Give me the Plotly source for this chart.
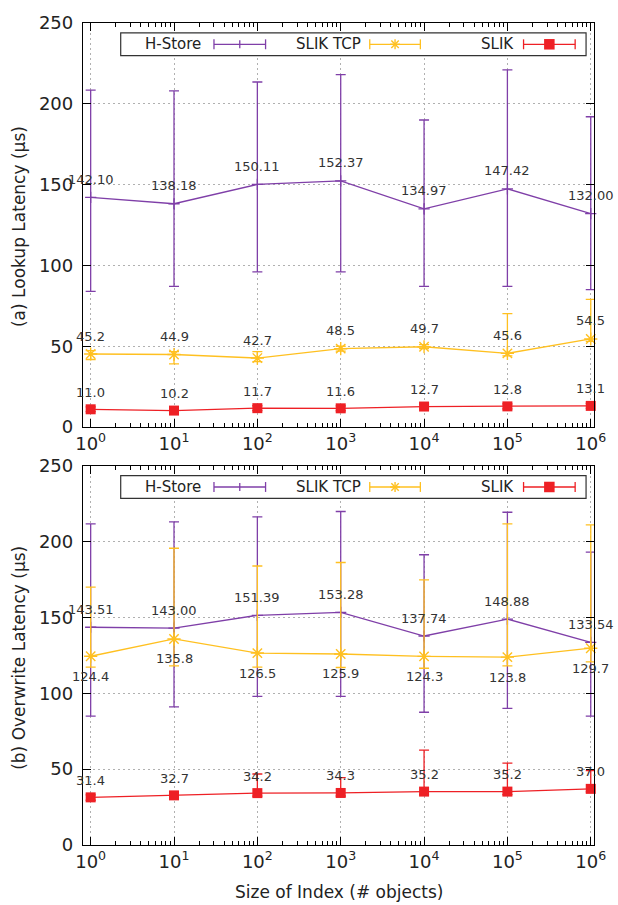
import math
import plotly.graph_objects as go

# ---------------- data ----------------
sizes = [1, 10, 100, 1000, 10000, 100000, 1000000]
x_tick_labels = ['10<sup>0</sup>', '10<sup>1</sup>', '10<sup>2</sup>', '10<sup>3</sup>',
                 '10<sup>4</sup>', '10<sup>5</sup>', '10<sup>6</sup>']
series_names = ['H-Store', 'SLIK TCP', 'SLIK']

# (a) Lookup latency (us): mean, upper and lower error bound
hstore_lookup = [142.10, 138.18, 150.11, 152.37, 134.97, 147.42, 132.00]
hstore_lookup_hi = [208.5, 208.0, 213.5, 218.0, 190.0, 221.0, 192.0]
hstore_lookup_lo = [84.0, 87.0, 96.0, 96.0, 87.0, 87.0, 85.0]
slik_tcp_lookup = [45.2, 44.9, 42.7, 48.5, 49.7, 45.6, 54.5]
slik_tcp_lookup_hi = [47.3, 46.7, 46.7, 50.0, 51.0, 70.2, 79.0]
slik_tcp_lookup_lo = [41.8, 39.1, 40.5, 47.0, 48.5, 44.0, 53.0]
slik_lookup = [11.0, 10.2, 11.7, 11.6, 12.7, 12.8, 13.1]
slik_lookup_hi = [12.5, 11.7, 13.2, 13.1, 14.2, 14.3, 14.6]
slik_lookup_lo = [9.5, 8.7, 10.2, 10.1, 11.2, 11.3, 11.6]

# (b) Overwrite latency (us)
hstore_write = [143.51, 143.00, 151.39, 153.28, 137.74, 148.88, 133.54]
hstore_write_hi = [211.7, 213.0, 216.3, 219.8, 191.3, 219.3, 193.0]
hstore_write_lo = [85.0, 91.0, 98.0, 98.0, 87.5, 90.0, 85.0]
slik_tcp_write = [124.4, 135.8, 126.5, 125.9, 124.3, 123.8, 129.7]
slik_tcp_write_hi = [169.9, 195.6, 183.9, 186.2, 174.7, 211.7, 211.0]
slik_tcp_write_lo = [117.3, 118.0, 117.3, 117.0, 116.5, 118.0, 120.7]
slik_write = [31.4, 32.7, 34.2, 34.3, 35.2, 35.2, 37.0]
slik_write_hi = [33.0, 34.5, 46.8, 44.4, 62.5, 54.0, 49.0]
slik_write_lo = [29.5, 30.8, 32.2, 32.3, 33.2, 33.2, 35.0]

# ---------------- styles ----------------
FONT = 'DejaVu Sans'
TXT = '#222222'
C_H = '#7F3FA8'
C_T = '#FFC020'
C_S = '#EE2025'
GRID = '#b0b0b0'

W, H = 618, 905
L, R, T, B = 83, 20, 15, 60
PW = W - L - R
PH = H - T - B


def px(xp):
    return (xp - L) / PW


def py(yp):
    return (H - B - yp) / PH


top_domain = [py(423), 1.0]
bot_domain = [0.0, py(462)]

fig = go.Figure()

panels = [
    dict(xa='x', ya='y', data=[
        (hstore_lookup, hstore_lookup_hi, hstore_lookup_lo, '{:.2f}', 18),
        (slik_tcp_lookup, slik_tcp_lookup_hi, slik_tcp_lookup_lo, '{:.1f}', 18),
        (slik_lookup, slik_lookup_hi, slik_lookup_lo, '{:.1f}', 17),
    ]),
    dict(xa='x2', ya='y2', data=[
        (hstore_write, hstore_write_hi, hstore_write_lo, '{:.2f}', 18),
        (slik_tcp_write, slik_tcp_write_hi, slik_tcp_write_lo, '{:.1f}', -20),
        (slik_write, slik_write_hi, slik_write_lo, '{:.1f}', 17),
    ]),
]

markers = [
    dict(symbol='cross-thin-open', size=8, color=C_H, line=dict(color=C_H, width=1.3)),
    dict(symbol='asterisk-open', size=11, color=C_T, line=dict(color=C_T, width=1.4)),
    dict(symbol='square', size=10, color=C_S, line=dict(color=C_S, width=0)),
]
colors = [C_H, C_T, C_S]

annotations = []
for p in panels:
    for i, (vals, hi, lo, fmt, shift) in enumerate(p['data']):
        fig.add_trace(go.Scatter(
            x=sizes, y=vals, mode='lines+markers', name=series_names[i],
            xaxis=p['xa'], yaxis=p['ya'],
            line=dict(color=colors[i], width=1.3),
            marker=markers[i],
            error_y=dict(type='data', symmetric=False,
                         array=[h - v for h, v in zip(hi, vals)],
                         arrayminus=[v - l for l, v in zip(lo, vals)],
                         color=colors[i], thickness=1.3, width=5),
            cliponaxis=False,
        ))
        for xv, v in zip(sizes, vals):
            annotations.append(dict(
                x=math.log10(xv), y=v, xref=p['xa'], yref=p['ya'],
                text=fmt.format(v), showarrow=False, yshift=shift,
                xanchor='center', yanchor='middle',
                font=dict(family=FONT, size=13, color='#333333')))

# axis titles
annotations.append(dict(x=0, y=py(221), xref='paper', yref='paper', xshift=-(L - 19),
                        text='(a) Lookup Latency (µs)', textangle=-90, showarrow=False,
                        xanchor='center', yanchor='middle',
                        font=dict(family=FONT, size=17, color=TXT)))
annotations.append(dict(x=0, y=py(656), xref='paper', yref='paper', xshift=-(L - 19),
                        text='(b) Overwrite Latency (µs)', textangle=-90, showarrow=False,
                        xanchor='center', yanchor='middle',
                        font=dict(family=FONT, size=17, color=TXT)))
annotations.append(dict(x=px(340.5), y=py(892), xref='paper', yref='paper',
                        text='Size of Index (# objects)', showarrow=False,
                        xanchor='center', yanchor='middle',
                        font=dict(family=FONT, size=17, color=TXT)))

# manual gnuplot-style legends
shapes = []
legend_items = [
    (series_names[0], 204, 215, 267, C_H, 'plus'),
    (series_names[1], 365, 372, 423, C_T, 'star'),
    (series_names[2], 519, 527, 579, C_S, 'square'),
]


def seg(x0, y0, x1, y1, color, w=1.3):
    shapes.append(dict(type='line', xref='paper', yref='paper',
                       x0=px(x0), y0=py(y0), x1=px(x1), y1=py(y1),
                       line=dict(color=color, width=w)))


for (btop, bbot) in [(25, 48), (472, 495)]:
    cy = (btop + bbot) / 2
    shapes.append(dict(type='rect', xref='paper', yref='paper',
                       x0=px(121), x1=px(590), y0=py(btop), y1=py(bbot),
                       line=dict(color='#333333', width=1.2), fillcolor='white', layer='above'))
    for name, tx, x0, x1, col, kind in legend_items:
        annotations.append(dict(x=px(tx), y=py(cy), xref='paper', yref='paper',
                                text=name, showarrow=False, xanchor='right', yanchor='middle',
                                font=dict(family=FONT, size=15, color=TXT)))
        seg(x0, cy, x1, cy, col)
        seg(x0, cy - 5, x0, cy + 5, col)
        seg(x1, cy - 5, x1, cy + 5, col)
        cx = (x0 + x1) / 2
        if kind == 'plus':
            seg(cx, cy - 4, cx, cy + 4, col)
        elif kind == 'star':
            r = 5
            seg(cx - r, cy, cx + r, cy, col, 1.4)
            seg(cx, cy - r, cx, cy + r, col, 1.4)
            seg(cx - r * 0.75, cy - r * 0.75, cx + r * 0.75, cy + r * 0.75, col, 1.4)
            seg(cx - r * 0.75, cy + r * 0.75, cx + r * 0.75, cy - r * 0.75, col, 1.4)
        else:
            shapes.append(dict(type='rect', xref='paper', yref='paper',
                               x0=px(cx - 5.3), x1=px(cx + 5.3), y0=py(cy - 5.3), y1=py(cy + 5.3),
                               line=dict(width=0), fillcolor=col, layer='above'))

minor_vals = [m * 10 ** k for k in range(0, 6) for m in range(2, 10)]

xcommon = dict(type='log', range=[-0.092, 6.039], tickmode='array', tickvals=sizes,
               ticktext=x_tick_labels, ticks='inside', ticklen=8, tickwidth=1.3,
               tickcolor='black', showline=True, linecolor='black', linewidth=1.3,
               mirror='ticks', showgrid=True, gridcolor=GRID, gridwidth=1.3,
               griddash='2px,3px', zeroline=False,
               tickfont=dict(family=FONT, size=18, color=TXT),
               minor=dict(tickmode='array', tickvals=minor_vals, ticks='inside',
                          ticklen=4, tickwidth=1.1, tickcolor='black', showgrid=False))
ycommon = dict(range=[0, 250], tickmode='linear', tick0=0, dtick=50, ticks='inside',
               ticklen=8, tickwidth=1.3, tickcolor='black', showline=True,
               linecolor='black', linewidth=1.3, mirror='ticks', showgrid=True,
               gridcolor=GRID, gridwidth=1.3, griddash='2px,3px', zeroline=False,
               tickfont=dict(family=FONT, size=18, color=TXT), ticklabelstandoff=5)

fig.update_layout(
    width=W, height=H, margin=dict(l=L, r=R, t=T, b=B),
    paper_bgcolor='white', plot_bgcolor='white', showlegend=False,
    font=dict(family=FONT, color=TXT),
    xaxis=dict(domain=[0, 1], anchor='y', **xcommon),
    yaxis=dict(domain=top_domain, anchor='x', **ycommon),
    xaxis2=dict(domain=[0, 1], anchor='y2', **xcommon),
    yaxis2=dict(domain=bot_domain, anchor='x2', **ycommon),
    annotations=annotations, shapes=shapes,
)

fig.write_html('out.html', config={'displayModeBar': False},
               post_script="document.body.style.margin='0';")
